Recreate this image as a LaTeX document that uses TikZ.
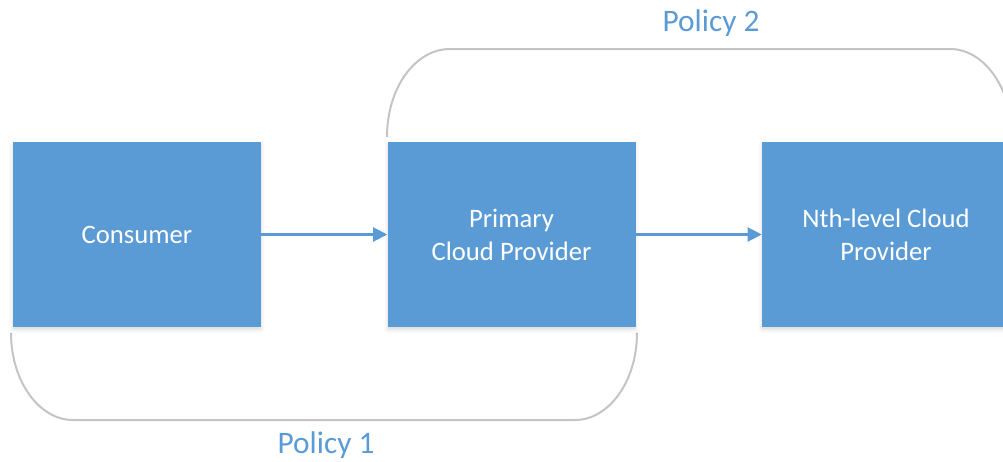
\documentclass[tikz,border=0pt]{standalone}
\usepackage{tikz}
\usepackage{fontspec}
\setmainfont{Carlito}
\usetikzlibrary{arrows.meta}
\usetikzlibrary{shadows.blur}

\definecolor{boxblue}{RGB}{91,155,213}
\definecolor{bracketgray}{RGB}{196,196,196}

\tikzset{
  cloudbox/.style={draw=none, fill=boxblue, text=white, align=center,
    minimum width=186pt, minimum height=138.75pt, inner sep=0.75pt,
    font=\fontsize{20}{24.75}\selectfont,
    blur shadow={shadow xshift=0pt, shadow yshift=-2pt, shadow blur radius=3pt, shadow opacity=15}},
  flow/.style={draw=boxblue, line width=1.6pt, -{Triangle[length=10.5pt, width=10.5pt]}},
  bracket/.style={draw=bracketgray, line width=1.5pt},
  policylabel/.style={text=boxblue, anchor=base, inner sep=0.75pt,
    font=\fontsize{23.5}{28}\selectfont}
}

\begin{document}
\begin{tikzpicture}[x=0.75pt,y=0.75pt,yscale=-1,xscale=1]
        \useasboundingbox (0,0) rectangle (1003,461);
        %Straight Lines [policy 1 bracket]
        \draw [bracket]  (11,333) .. controls (11,381) and (39,420) .. (73,420) -- (575,420) .. controls (609,420) and (637,381) .. (637,333) ;
        %Straight Lines [policy 2 bracket]
        \draw [bracket]  (387,137) .. controls (387,88) and (415,49) .. (450,49) -- (950,49) .. controls (984,49) and (1012,88) .. (1012,137) ;

        %Shape: Rectangle [consumer]
        \node [cloudbox] (consumer) at (137,234.5) {Consumer};
        %Shape: Rectangle [primary]
        \node [cloudbox] (primary) at (511.5,234.5) {Primary\\Cloud Provider};
        %Shape: Rectangle [nth level]
        \node [cloudbox] (nthlevel) at (886,234.5) {Nth-level Cloud\\Provider};

        %Straight Lines [arrows]
        \draw [flow] (consumer) -- (primary) ;
        \draw [flow] (primary) -- (nthlevel) ;

        % Text Node
        \node [policylabel] (policyone) at (326,453) {Policy 1};
        % Text Node
        \node [policylabel] (policytwo) at (711,31) {Policy 2};
\end{tikzpicture}
\end{document}
